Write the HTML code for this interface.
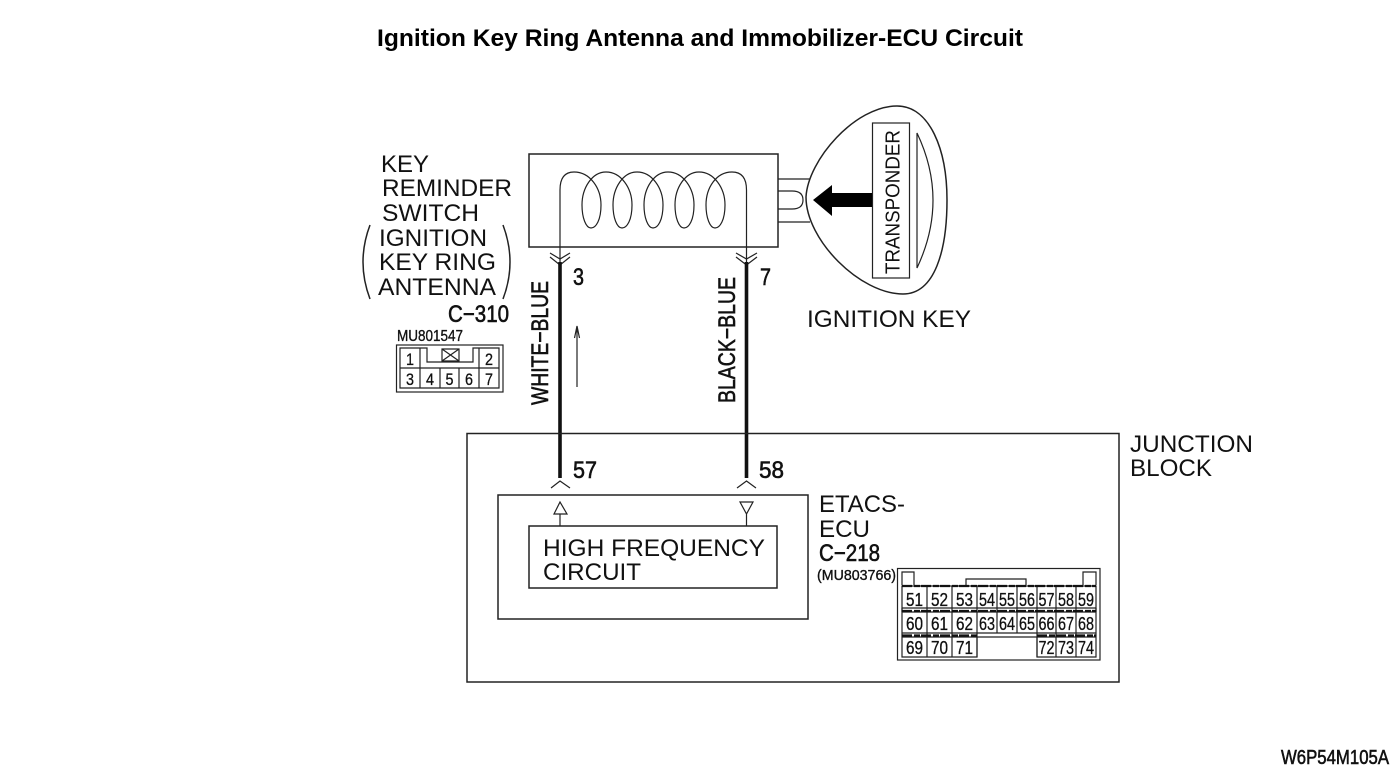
<!DOCTYPE html>
<html><head><meta charset="utf-8"><style>
html,body{margin:0;padding:0;background:#fff;width:1400px;height:775px;overflow:hidden}
svg{display:block}
text{font-family:"Liberation Sans",sans-serif;fill:#111}
.l{font-size:24px}
.n{font-size:24px;stroke:#111;stroke-width:.6px}
.m{stroke:#111;stroke-width:.35px}
.p{text-anchor:middle;stroke:#111;stroke-width:.3px}
.s{fill:none;stroke:#222;stroke-width:1.5}
.t{fill:none;stroke:#222;stroke-width:1.2}
</style></head><body>
<svg width="1400" height="775" viewBox="0 0 1400 775" xmlns="http://www.w3.org/2000/svg">
<text x="377" y="46" font-size="24" font-weight="bold" textLength="646" lengthAdjust="spacingAndGlyphs" style="fill:#000">Ignition Key Ring Antenna and Immobilizer-ECU Circuit</text>

<!-- antenna box -->
<rect x="529" y="154" width="249" height="93" class="s"/>
<path class="t" d="M560 265V190Q560 172 574 172C590 172 601 188 601 205C601 220 596 228 591 228C586 228 582 218 582 205C582 188 592 172 606 172C621 172 632 188 632 205C632 220 627 228 622 228C617 228 613 218 613 205C613 188 623 172 637 172C652 172 663 188 663 205C663 220 658 228 653 228C648 228 644 218 644 205C644 188 654 172 668 172C683 172 694 188 694 205C694 220 689 228 684 228C679 228 675 218 675 205C675 188 685 172 699 172C714 172 725 188 725 205C725 220 720 228 715 228C710 228 706 218 706 205C706 188 716 172 732 172Q746.500 172 746.500 190V265"/>
<path class="t" d="M550 253L560 259L570 253M550 257L560 265L570 257M736 253L746.500 259L757 253M736 257L746.500 265L757 257"/>
<path d="M560 262V478M746.500 262V478" fill="none" stroke="#111" stroke-width="3.600"/>
<path class="t" d="M551 488L560 481L570 488M737 488L746.500 481L756 488"/>
<path class="t" d="M577 387V326M574.500 338L577 326L579.500 338"/>

<!-- key -->
<path class="s" d="M806 197C808 160 855 106 897 106C930 106 947 150 947 200C947 250 935 294 903 294C860 294 806 240 806 197Z"/>
<path class="t" d="M778 179H810M778 222H810M778 191H792Q803 191 803 200Q803 209 792 209H778"/>
<rect x="872.500" y="123" width="37" height="155" class="t"/>
<path class="t" d="M917 133Q949 200 917 268Z"/>
<path d="M872 193H832V185L813 200L832 216V207H872Z" fill="#000"/>
<text transform="translate(899.500 274) rotate(-90)" font-size="20.500" textLength="144" lengthAdjust="spacingAndGlyphs">TRANSPONDER</text>
<text x="807" y="327" class="l" textLength="164" lengthAdjust="spacingAndGlyphs">IGNITION KEY</text>

<!-- labels -->
<text x="381" y="172" class="l" textLength="48" lengthAdjust="spacingAndGlyphs">KEY</text>
<text x="382" y="196" class="l" textLength="130" lengthAdjust="spacingAndGlyphs">REMINDER</text>
<text x="382" y="221" class="l" textLength="97" lengthAdjust="spacingAndGlyphs">SWITCH</text>
<text x="379" y="246" class="l" textLength="108" lengthAdjust="spacingAndGlyphs">IGNITION</text>
<text x="379" y="270" class="l" textLength="117" lengthAdjust="spacingAndGlyphs">KEY RING</text>
<text x="378" y="295" class="l" textLength="118" lengthAdjust="spacingAndGlyphs">ANTENNA</text>
<path class="s" d="M370 225Q356 262 370 299M503 225Q517 262 503 299"/>
<text x="448" y="322" class="n" textLength="61" lengthAdjust="spacingAndGlyphs">C−310</text>
<text x="397" y="341" font-size="15.500" class="m" textLength="66" lengthAdjust="spacingAndGlyphs">MU801547</text>

<!-- small connector -->
<rect x="396.500" y="345" width="106.500" height="47" class="t"/>
<path class="t" d="M400 348H420V368H400ZM400 368H499V388H400ZM499 348H479V368H499ZM420 348H427V362H473V348H479M420 368V388M440 368V388M459 368V388M479 368V388"/>
<path class="t" d="M442 349H459V361H442ZM442 349L459 361M459 349L442 361"/>
<g class="p" style="font-size:17px">
<text x="410" y="365" textLength="8" lengthAdjust="spacingAndGlyphs">1</text>
<text x="489" y="365" textLength="8" lengthAdjust="spacingAndGlyphs">2</text>
<text x="410" y="385" textLength="8" lengthAdjust="spacingAndGlyphs">3</text>
<text x="430" y="385" textLength="8" lengthAdjust="spacingAndGlyphs">4</text>
<text x="449.500" y="385" textLength="8" lengthAdjust="spacingAndGlyphs">5</text>
<text x="469" y="385" textLength="8" lengthAdjust="spacingAndGlyphs">6</text>
<text x="489" y="385" textLength="8" lengthAdjust="spacingAndGlyphs">7</text>
</g>

<text x="573" y="285" class="n" textLength="11" lengthAdjust="spacingAndGlyphs">3</text>
<text x="760" y="285" class="n" textLength="11" lengthAdjust="spacingAndGlyphs">7</text>
<text transform="translate(548 405) rotate(-90)" class="n" textLength="124" lengthAdjust="spacingAndGlyphs">WHITE−BLUE</text>
<text transform="translate(735 403) rotate(-90)" class="n" textLength="126" lengthAdjust="spacingAndGlyphs">BLACK−BLUE</text>
<text x="573" y="478" class="n" textLength="24" lengthAdjust="spacingAndGlyphs">57</text>
<text x="759" y="478" class="n" textLength="25" lengthAdjust="spacingAndGlyphs">58</text>

<!-- junction block -->
<rect x="467" y="433.500" width="652" height="248.500" class="s"/>
<text x="1130" y="452" class="l" textLength="123" lengthAdjust="spacingAndGlyphs">JUNCTION</text>
<text x="1130" y="476" class="l" textLength="82" lengthAdjust="spacingAndGlyphs">BLOCK</text>

<!-- ETACS -->
<rect x="498" y="495" width="310" height="124" class="s"/>
<rect x="529" y="526" width="248" height="62" class="s"/>
<path class="t" d="M560 502L554 514H567ZM560 514V526M740 502H753L746.500 514ZM746.500 514V526"/>
<text x="543" y="556" class="l" textLength="222" lengthAdjust="spacingAndGlyphs">HIGH FREQUENCY</text>
<text x="543" y="580" class="l" textLength="98" lengthAdjust="spacingAndGlyphs">CIRCUIT</text>
<text x="819" y="512" class="l" textLength="86" lengthAdjust="spacingAndGlyphs">ETACS-</text>
<text x="819" y="537" class="l" textLength="51" lengthAdjust="spacingAndGlyphs">ECU</text>
<text x="819" y="561" class="n" textLength="61" lengthAdjust="spacingAndGlyphs">C−218</text>
<text x="817" y="580" font-size="15" class="m" textLength="79" lengthAdjust="spacingAndGlyphs">(MU803766)</text>

<!-- large connector -->
<rect x="897.500" y="568.500" width="202.500" height="91.500" class="t"/>
<path class="t" d="M902 585V572H914V585M1083 585V572H1096V585M966 585V579H1026V585"/>
<path class="t" d="M902 657V586H1096V657H1037V637H977V657ZM902 608H1096M902 612H1096M902 633H1096M902 637H977M1037 637H1096"/>
<path class="t" d="M927 586V657M952 586V657M977 586V657M997 586V633M1017 586V633M1037 586V657M1056 586V657M1076 586V657M902 608V612M1096 608V612"/>
<path d="M902 586H1096M902 611H1096M902 635.500H977M1037 635.500H1096" stroke="#111" stroke-width="2.200" stroke-dasharray="10 2 6 1" fill="none"/>
<g style="font-size:18px" class="p">
<text x="914.500" y="606" textLength="17" lengthAdjust="spacingAndGlyphs">51</text>
<text x="939.500" y="606" textLength="17" lengthAdjust="spacingAndGlyphs">52</text>
<text x="964.500" y="606" textLength="17" lengthAdjust="spacingAndGlyphs">53</text>
<text x="987" y="606" textLength="16" lengthAdjust="spacingAndGlyphs">54</text>
<text x="1007" y="606" textLength="16" lengthAdjust="spacingAndGlyphs">55</text>
<text x="1027" y="606" textLength="16" lengthAdjust="spacingAndGlyphs">56</text>
<text x="1046.500" y="606" textLength="16" lengthAdjust="spacingAndGlyphs">57</text>
<text x="1066" y="606" textLength="16" lengthAdjust="spacingAndGlyphs">58</text>
<text x="1086" y="606" textLength="16" lengthAdjust="spacingAndGlyphs">59</text>
<text x="914.500" y="630" textLength="17" lengthAdjust="spacingAndGlyphs">60</text>
<text x="939.500" y="630" textLength="17" lengthAdjust="spacingAndGlyphs">61</text>
<text x="964.500" y="630" textLength="17" lengthAdjust="spacingAndGlyphs">62</text>
<text x="987" y="630" textLength="16" lengthAdjust="spacingAndGlyphs">63</text>
<text x="1007" y="630" textLength="16" lengthAdjust="spacingAndGlyphs">64</text>
<text x="1027" y="630" textLength="16" lengthAdjust="spacingAndGlyphs">65</text>
<text x="1046.500" y="630" textLength="16" lengthAdjust="spacingAndGlyphs">66</text>
<text x="1066" y="630" textLength="16" lengthAdjust="spacingAndGlyphs">67</text>
<text x="1086" y="630" textLength="16" lengthAdjust="spacingAndGlyphs">68</text>
<text x="914.500" y="654" textLength="17" lengthAdjust="spacingAndGlyphs">69</text>
<text x="939.500" y="654" textLength="17" lengthAdjust="spacingAndGlyphs">70</text>
<text x="964.500" y="654" textLength="17" lengthAdjust="spacingAndGlyphs">71</text>
<text x="1046.500" y="654" textLength="16" lengthAdjust="spacingAndGlyphs">72</text>
<text x="1066" y="654" textLength="16" lengthAdjust="spacingAndGlyphs">73</text>
<text x="1086" y="654" textLength="16" lengthAdjust="spacingAndGlyphs">74</text>
</g>

<text x="1281" y="764" font-size="20.500" class="n" style="font-size:20.500px" textLength="108" lengthAdjust="spacingAndGlyphs">W6P54M105A</text>
</svg>
</body></html>
